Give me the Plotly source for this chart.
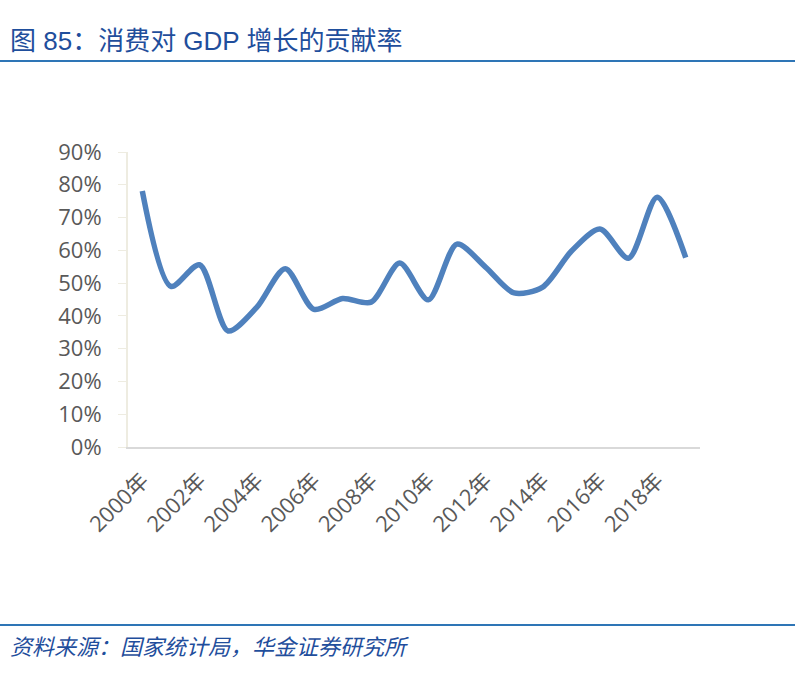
import plotly.graph_objects as go

# 消费对 GDP 增长的贡献率 (%)
years = [f"{y}年" for y in range(2000, 2020)]
contribution = [78.1, 49.0, 55.6, 35.4, 42.6, 54.4, 42.0, 45.3, 44.2, 56.1,
                44.9, 61.9, 54.9, 47.0, 48.8, 59.7, 66.5, 57.6, 76.2, 57.8]
tick_years = years[::2]
y_ticks = [0, 10, 20, 30, 40, 50, 60, 70, 80, 90]

W, H = 795, 673
L, R, T, B = 128, 95, 152, 226
pw = W - L - R
ph = H - T - B

def px(x):  # pixel -> paper x
    return (x - L) / pw

def py(y):  # pixel -> paper y
    return (H - B - y) / ph

TICK_FONT = "'Open Sans', 'Noto Sans CJK SC', sans-serif"
CJK_FONT = "'Liberation Sans', 'Noto Sans CJK SC', sans-serif"

fig = go.Figure()
fig.add_trace(go.Scatter(
    x=years, y=contribution, mode="lines",
    line=dict(color="#4F81BD", width=5.5, shape="spline", smoothing=0.8),
    hoverinfo="x+y",
))

fig.update_layout(
    width=W, height=H,
    margin=dict(l=L, r=R, t=T, b=B),
    paper_bgcolor="white", plot_bgcolor="white",
    showlegend=False,
    font=dict(family=TICK_FONT, color="#595959"),
)
fig.update_xaxes(
    type="category", range=[-0.5, len(years) - 0.5],
    tickmode="array", tickvals=tick_years, ticktext=tick_years,
    tickangle=-45, tickfont=dict(size=22, color="#595959", family=TICK_FONT),
    ticklabelstandoff=10,
    showgrid=False, showline=True, linecolor="#D9D9D9", linewidth=2,
    ticks="", zeroline=False,
)
fig.update_yaxes(
    range=[0, 90], tickvals=y_ticks, ticktext=[f"{v}%" for v in y_ticks],
    tickfont=dict(size=22, color="#595959", family=TICK_FONT),
    ticklabelstandoff=12,
    showgrid=False, showline=True, linecolor="#EEECE1", linewidth=2,
    ticks="outside", ticklen=8, tickcolor="#EEECE1", zeroline=False,
)

# title and source
fig.add_annotation(
    text="图 85：消费对 GDP 增长的贡献率", xref="paper", yref="paper",
    x=px(8), y=py(41), xanchor="left", yanchor="middle", showarrow=False,
    font=dict(size=26, color="#1F4E9C", family=CJK_FONT),
)
fig.add_annotation(
    text="<i>资料来源：国家统计局，华金证券研究所</i>", xref="paper", yref="paper",
    x=px(8), y=py(647), xanchor="left", yanchor="middle", showarrow=False,
    font=dict(size=22, color="#1F4E9C", family=CJK_FONT),
)
for yy in (61, 625):
    fig.add_shape(type="line", xref="paper", yref="paper",
                  x0=px(0), x1=px(W), y0=py(yy), y1=py(yy),
                  line=dict(color="#2E75B6", width=2))

fig.write_html("out.html", config={"displayModeBar": False},
               post_script="document.body.style.margin='0px';")
